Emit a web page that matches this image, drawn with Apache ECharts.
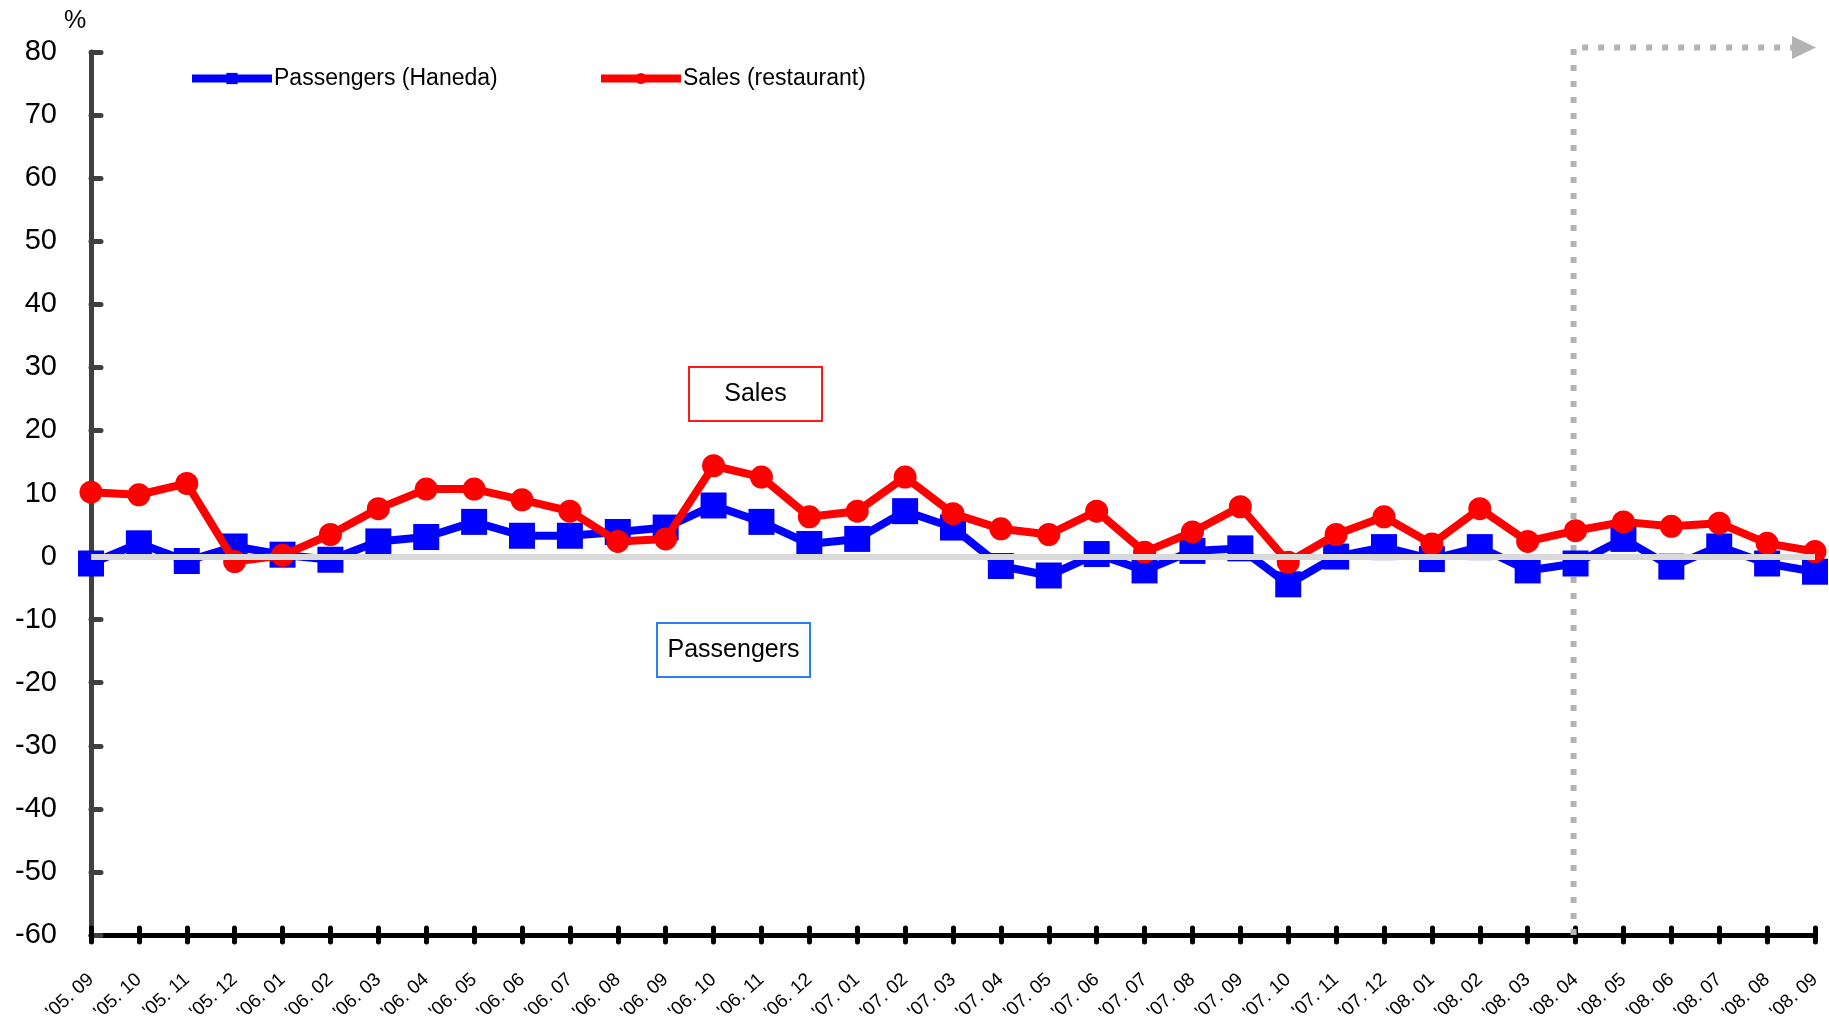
<!DOCTYPE html>
<html>
<head>
<meta charset="utf-8">
<script src="https://cdn.jsdelivr.net/npm/echarts@6/dist/echarts.min.js"></script>
<style>
  html, body { margin: 0; padding: 0; background: #fff; }
  #chart { width: 1829px; height: 1022px; }
</style>
</head>
<body>
<div id="chart"></div>
<script>
// Monthly year-on-year change (%), Sep 2005 – Sep 2008
const months = [
  "'05. 09", "'05. 10", "'05. 11", "'05. 12",
  "'06. 01", "'06. 02", "'06. 03", "'06. 04", "'06. 05", "'06. 06",
  "'06. 07", "'06. 08", "'06. 09", "'06. 10", "'06. 11", "'06. 12",
  "'07. 01", "'07. 02", "'07. 03", "'07. 04", "'07. 05", "'07. 06",
  "'07. 07", "'07. 08", "'07. 09", "'07. 10", "'07. 11", "'07. 12",
  "'08. 01", "'08. 02", "'08. 03", "'08. 04", "'08. 05", "'08. 06",
  "'08. 07", "'08. 08", "'08. 09"
];

const passengers = [
  -1.1, 2.1, -0.7, 1.6,
  0.3, -0.5, 2.4, 3.1, 5.5, 3.3,
  3.3, 3.9, 4.6, 8.1, 5.5, 2.0,
  2.8, 7.2, 4.6, -1.5, -3.0, 0.4,
  -2.2, 0.9, 1.3, -4.4, 0.0, 1.5,
  -0.4, 1.5, -2.2, -1.1, 2.8, -1.6,
  1.6, -1.1, -2.4
];

const sales = [
  10.2, 9.8, 11.6, -0.8,
  0.2, 3.5, 7.6, 10.7, 10.7, 9.0,
  7.2, 2.4, 2.8, 14.4, 12.6, 6.3,
  7.2, 12.6, 6.8, 4.4, 3.5, 7.2,
  0.7, 3.9, 7.9, -0.9, 3.5, 6.3,
  2.0, 7.6, 2.4, 4.1, 5.5, 4.8,
  5.3, 2.1, 0.8
];

const yTicks = { min: -60, max: 80, step: 10 };

// Forecast bracket: starts at '08.04 and runs to the last month
const forecastFrom = "'08. 04";
const forecastTo = "'08. 09";
const forecastTop = 80.7;

const FONT = "'Liberation Sans', Arial, Helvetica, sans-serif";
const chart = echarts.init(document.getElementById('chart'), null, { renderer: 'canvas' });

const legendText = { fontSize: 23, color: '#000', fontFamily: FONT, padding: [0, 0, 0, -3] };

const option = {
  animation: false,
  backgroundColor: '#ffffff',
  textStyle: { fontFamily: FONT, color: '#000' },
  grid: { left: 91, right: 14, top: 52, bottom: 87, containLabel: false, outerBoundsMode: 'none' },
  legend: [
    {
      data: ['Passengers (Haneda)'],
      left: 183, top: 62,
      itemWidth: 80, itemHeight: 14, itemGap: 0,
      lineStyle: { width: 8 },
      textStyle: legendText
    },
    {
      data: ['Sales (restaurant)'],
      left: 592, top: 62,
      itemWidth: 80, itemHeight: 14, itemGap: 0,
      lineStyle: { width: 8 },
      textStyle: legendText
    }
  ],
  xAxis: [
    {
      type: 'category',
      data: months,
      boundaryGap: false,
      axisLine: { show: true, onZero: false, lineStyle: { color: '#000', width: 5 } },
      axisTick: {
        show: true, inside: false, length: 7, interval: 0,
        lineStyle: { color: '#000', width: 5, cap: 'round' }
      },
      axisLabel: {
        interval: 0, rotate: 42, fontSize: 19, color: '#000',
        fontFamily: FONT, margin: 42
      },
      splitLine: { show: false }
    },
    {
      type: 'category',
      data: months,
      boundaryGap: false,
      position: 'bottom',
      axisLine: { show: false, onZero: false },
      axisTick: {
        show: true, inside: true, length: 7, interval: 0,
        lineStyle: { color: '#000', width: 5, cap: 'round' }
      },
      axisLabel: { show: false },
      splitLine: { show: false }
    }
  ],
  yAxis: {
    type: 'value',
    min: yTicks.min, max: yTicks.max, interval: yTicks.step,
    axisLine: { show: true, onZero: false, lineStyle: { color: '#404040', width: 5 } },
    axisTick: {
      show: true, inside: true, length: 10,
      lineStyle: { color: '#404040', width: 5, cap: 'round' }
    },
    axisLabel: { fontSize: 29, color: '#000', fontFamily: FONT, margin: 34 },
    splitLine: { show: false }
  },
  series: [
    {
      // zero reference band, drawn beneath the data lines
      type: 'line',
      data: [],
      z: 1,
      silent: true,
      markLine: {
        silent: true,
        animation: false,
        symbol: 'none',
        label: { show: false },
        lineStyle: { color: '#d9d9d9', width: 6, type: 'solid' },
        data: [{ yAxis: 0 }]
      }
    },
    {
      name: 'Passengers (Haneda)',
      type: 'line',
      data: passengers,
      z: 3,
      symbol: 'rect',
      symbolSize: 26,
      itemStyle: { color: '#0000ff' },
      lineStyle: { color: '#0000ff', width: 8 }
    },
    {
      name: 'Sales (restaurant)',
      type: 'line',
      data: sales,
      z: 4,
      symbol: 'circle',
      symbolSize: 23,
      itemStyle: { color: '#ff0000' },
      lineStyle: { color: '#ff0000', width: 8 }
    }
  ]
};

chart.setOption(option);

// Annotations: forecast bracket placed through the axes' own scales, plus labels
const xFrom = chart.convertToPixel({ xAxisIndex: 0 }, forecastFrom);
const xTo = chart.convertToPixel({ xAxisIndex: 0 }, forecastTo);
const yBase = chart.convertToPixel({ yAxisIndex: 0 }, yTicks.min);
const yTop = chart.convertToPixel({ yAxisIndex: 0 }, forecastTop);

chart.setOption({
  graphic: [
    {
      type: 'polyline', z: 1, silent: true,
      shape: { points: [[xFrom - 2, yBase], [xFrom - 2, yTop], [xTo - 22, yTop]] },
      style: { stroke: '#b3b3b3', lineWidth: 6, lineDash: [6, 10], fill: null }
    },
    {
      type: 'polygon', z: 1, silent: true,
      shape: { points: [[xTo - 23, yTop - 11.5], [xTo + 1, yTop], [xTo - 23, yTop + 11.5]] },
      style: { fill: '#b3b3b3' }
    },
    {
      type: 'text', left: 64, top: 9,
      style: { text: '%', font: '25px ' + FONT, fill: '#000' }
    },
    {
      type: 'group', left: 688, top: 366,
      children: [
        { type: 'rect', shape: { x: 0, y: 0, width: 133, height: 54 },
          style: { fill: '#fff', stroke: '#ff1a1a', lineWidth: 2 } },
        { type: 'text', x: 66.5, y: 27,
          style: { text: 'Sales', font: '25px ' + FONT, fill: '#000',
                   textAlign: 'center', textVerticalAlign: 'middle' } }
      ]
    },
    {
      type: 'group', left: 656, top: 622,
      children: [
        { type: 'rect', shape: { x: 0, y: 0, width: 153, height: 54 },
          style: { fill: '#fff', stroke: '#2a7fff', lineWidth: 2 } },
        { type: 'text', x: 76.5, y: 27,
          style: { text: 'Passengers', font: '25px ' + FONT, fill: '#000',
                   textAlign: 'center', textVerticalAlign: 'middle' } }
      ]
    }
  ]
});
</script>
</body>
</html>
